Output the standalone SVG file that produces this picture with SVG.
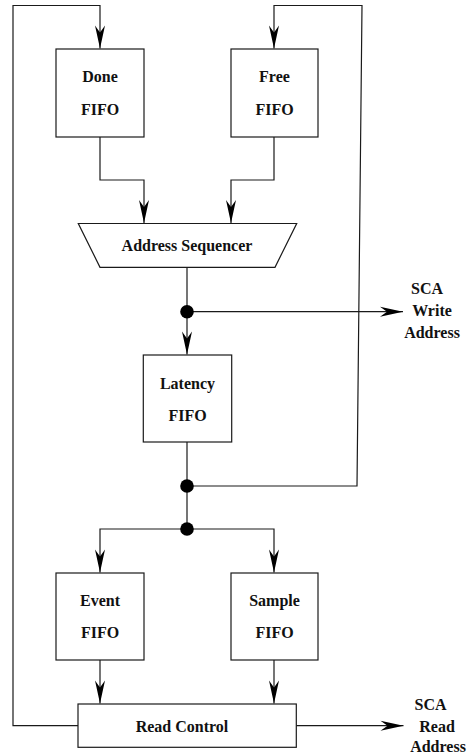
<svg xmlns="http://www.w3.org/2000/svg" width="467" height="756" viewBox="0 0 467 756">
<style>
.box{fill:#fff;stroke:#1a1a1a;stroke-width:1.2}
.ln{fill:none;stroke:#1a1a1a;stroke-width:1.2}
.t{font-family:"Liberation Serif","Times New Roman",serif;font-weight:bold;font-size:16px;fill:#111;text-anchor:middle}
.dot{fill:#000}
</style>
<defs>
<marker id="ah" markerUnits="userSpaceOnUse" markerWidth="26" markerHeight="14" viewBox="-24 -7 26 14" refX="0" refY="0" orient="auto">
<path d="M0,0 L-23,-5 L-16,0 L-23,5 Z" fill="#000"/>
</marker>
</defs>
<g id="connectors">
<path class="ln" d="M78,725.7 H13 V5.5 H100 V48.5" marker-end="url(#ah)"/>
<path class="ln" d="M187,486 H357 L362,5.5 H274 V48.5" marker-end="url(#ah)"/>
<path class="ln" d="M100,137 V180 H144 V223" marker-end="url(#ah)"/>
<path class="ln" d="M274,137 V180 H231 V223" marker-end="url(#ah)"/>
<path class="ln" d="M187,267 V354.5" marker-end="url(#ah)"/>
<path class="ln" d="M187,311.7 H403" marker-end="url(#ah)"/>
<path class="ln" d="M187,442 V529"/>
<path class="ln" d="M187,529 H100 V572.5" marker-end="url(#ah)"/>
<path class="ln" d="M187,529 H274 V572.5" marker-end="url(#ah)"/>
<path class="ln" d="M100,660 V703.5" marker-end="url(#ah)"/>
<path class="ln" d="M274,660 V703.5" marker-end="url(#ah)"/>
<path class="ln" d="M296,725.7 H403.5" marker-end="url(#ah)"/>
<circle class="dot" cx="187" cy="311.7" r="6.8"/>
<circle class="dot" cx="187" cy="486" r="6.8"/>
<circle class="dot" cx="187" cy="529" r="6.8"/>
</g>
<g id="done-fifo">
<rect class="box" x="56" y="49" width="88" height="88"/>
<text class="t" x="100" y="82">Done</text>
<text class="t" x="100" y="115">FIFO</text>
</g>
<g id="free-fifo">
<rect class="box" x="231" y="49" width="87" height="88"/>
<text class="t" x="274.5" y="82">Free</text>
<text class="t" x="274.5" y="115">FIFO</text>
</g>
<g id="address-sequencer">
<path class="box" d="M78.3,223.5 H296.7 L275,267.3 H100 Z"/>
<text class="t" x="187" y="251">Address Sequencer</text>
</g>
<g id="sca-write">
<text class="t" x="427" y="294">SCA</text>
<text class="t" x="432" y="316">Write</text>
<text class="t" x="432" y="338">Address</text>
</g>
<g id="latency-fifo">
<rect class="box" x="143.3" y="355" width="88.4" height="87"/>
<text class="t" x="187.5" y="389">Latency</text>
<text class="t" x="187.5" y="421">FIFO</text>
</g>
<g id="event-fifo">
<rect class="box" x="56" y="573" width="88" height="87"/>
<text class="t" x="100" y="606">Event</text>
<text class="t" x="100" y="638">FIFO</text>
</g>
<g id="sample-fifo">
<rect class="box" x="231" y="573" width="87" height="87"/>
<text class="t" x="274.5" y="606">Sample</text>
<text class="t" x="274.5" y="638">FIFO</text>
</g>
<g id="read-control">
<rect class="box" x="78" y="704" width="218.3" height="43.3"/>
<text class="t" x="182" y="731.5">Read Control</text>
</g>
<g id="sca-read">
<text class="t" x="430.5" y="710">SCA</text>
<text class="t" x="437" y="731.5">Read</text>
<text class="t" x="438" y="751.5">Address</text>
</g>
</svg>
